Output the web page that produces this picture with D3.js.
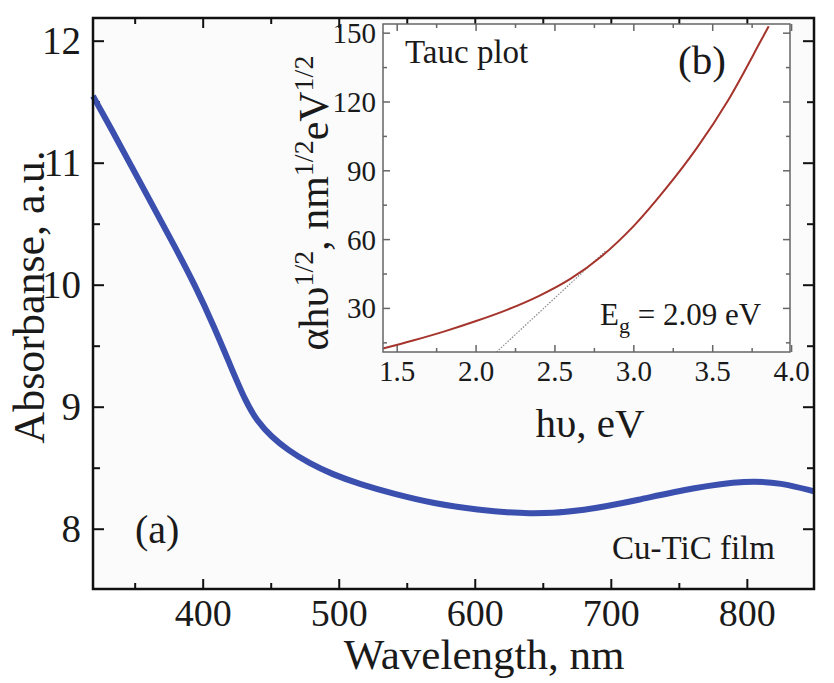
<!DOCTYPE html>
<html>
<head>
<meta charset="utf-8">
<script src="https://cdn.jsdelivr.net/npm/d3@7"></script>
<style>
  body { margin: 0; background: #fff; }
</style>
</head>
<body>
<script>
// main spectrum
var wavelength = [319, 332, 347, 362, 378, 394, 408, 420, 431, 440, 450, 462, 478, 495, 515, 540, 570, 600, 640, 680, 720, 760, 800, 825, 849];
var absorbance = [11.55, 11.29, 10.98, 10.67, 10.34, 10.0, 9.66, 9.34, 9.05, 8.88, 8.76, 8.65, 8.54, 8.45, 8.37, 8.29, 8.21, 8.16, 8.12, 8.15, 8.24, 8.34, 8.40, 8.38, 8.31];
var xTicks = [400, 500, 600, 700, 800];
var yTicks = [8, 9, 10, 11, 12];

// inset Tauc plot
var energy = [1.41, 1.6, 1.8, 2.0, 2.2, 2.4, 2.6, 2.8, 3.0, 3.2, 3.4, 3.6, 3.8, 3.855];
var tauc = [12.5, 16, 20, 24.5, 29.5, 35.5, 43, 53, 66, 82, 100, 121, 146, 153];
var tangentE = [2.13, 2.82];
var tangentY = [11, 55];
var insetXTicks = [1.5, 2.0, 2.5, 3.0, 3.5, 4.0];
var insetYTicks = [30, 60, 90, 120, 150];

var W = 834, H = 683;
var svg = d3.select("body").append("svg").attr("width", W).attr("height", H)
  .attr("font-family", "'Liberation Serif', 'Times New Roman', Times, serif")
  .attr("fill", "#1a1a1a");

// ---------- main plot ----------
var m = {left: 93, right: 814, top: 18, bottom: 589};
svg.append("rect").attr("x", m.left).attr("y", m.top)
  .attr("width", m.right - m.left).attr("height", m.bottom - m.top)
  .attr("fill", "#fbfbfb");

var x = d3.scaleLinear().domain([319, 849]).range([m.left, m.right]);
var y = d3.scaleLinear().domain([7.51, 12.19]).range([m.bottom, m.top]);

function tickMarks(g, scale, vals, len, orient) {
  vals.forEach(function(v) {
    var p = scale(v);
    if (orient == "bottom") g.append("line").attr("x1", p).attr("x2", p).attr("y1", m.bottom).attr("y2", m.bottom - len);
    if (orient == "top") g.append("line").attr("x1", p).attr("x2", p).attr("y1", m.top).attr("y2", m.top + len);
    if (orient == "left") g.append("line").attr("y1", p).attr("y2", p).attr("x1", m.left).attr("x2", m.left + len);
    if (orient == "right") g.append("line").attr("y1", p).attr("y2", p).attr("x1", m.right).attr("x2", m.right - len);
  });
}

var tk = svg.append("g").attr("stroke", "#111").attr("stroke-width", 2);
var xMinor = d3.range(350, 850, 100);
var yMinor = [8.5, 9.5, 10.5, 11.5];
tickMarks(tk, x, xTicks, 10, "bottom");
tickMarks(tk, x, xMinor, 6, "bottom");
tickMarks(tk, x, xTicks, 10, "top");
tickMarks(tk, x, xMinor, 6, "top");
tickMarks(tk, y, yTicks, 11, "left");
tickMarks(tk, y, yMinor, 7, "left");
tickMarks(tk, y, yTicks, 11, "right");
tickMarks(tk, y, yMinor, 7, "right");

svg.append("g").selectAll("text").data(xTicks).enter().append("text")
  .attr("x", d => x(d)).attr("y", 626).attr("text-anchor", "middle")
  .attr("font-size", 38).text(d => d);
svg.append("g").selectAll("text").data(yTicks).enter().append("text")
  .attr("x", 81).attr("y", d => y(d) + 13).attr("text-anchor", "end")
  .attr("font-size", 39).text(d => d);

svg.append("text").attr("x", 484).attr("y", 669).attr("text-anchor", "middle")
  .attr("font-size", 43).text("Wavelength, nm");
svg.append("text").attr("transform", "translate(44,297) rotate(-90)")
  .attr("text-anchor", "middle").attr("font-size", 44).text("Absorbanse, a.u.");

svg.append("path")
  .datum(d3.zip(wavelength, absorbance))
  .attr("fill", "none").attr("stroke", "#3a4fae").attr("stroke-width", 6)
  .attr("d", d3.line().x(d => x(d[0])).y(d => y(d[1])).curve(d3.curveBasis));

svg.append("text").attr("x", 135).attr("y", 543).attr("font-size", 40).text("(a)");
svg.append("text").attr("x", 612).attr("y", 559).attr("font-size", 33).text("Cu-TiC film");

svg.append("rect").attr("x", m.left).attr("y", m.top)
  .attr("width", m.right - m.left).attr("height", m.bottom - m.top)
  .attr("fill", "none").attr("stroke", "#111").attr("stroke-width", 2.5);

// ---------- inset ----------
var n = {left: 383, right: 790, top: 24, bottom: 352};
svg.append("rect").attr("x", n.left).attr("y", n.top)
  .attr("width", n.right - n.left).attr("height", n.bottom - n.top)
  .attr("fill", "#fff");

var ix = d3.scaleLinear().domain([1.41, 3.99]).range([n.left, n.right]);
var iy = d3.scaleLinear().domain([11, 154]).range([n.bottom, n.top]);

var itk = svg.append("g").attr("stroke", "#666").attr("stroke-width", 1.5);
var ixMinor = d3.range(1.75, 4.0, 0.5);
var iyMinor = d3.range(15, 151, 30);
function insetTicks(scale, vals, len, horiz) {
  vals.forEach(function(v) {
    var p = scale(v);
    if (horiz) {
      itk.append("line").attr("x1", p).attr("x2", p).attr("y1", n.bottom).attr("y2", n.bottom - len);
      itk.append("line").attr("x1", p).attr("x2", p).attr("y1", n.top).attr("y2", n.top + len);
    } else {
      itk.append("line").attr("y1", p).attr("y2", p).attr("x1", n.left).attr("x2", n.left + len);
      itk.append("line").attr("y1", p).attr("y2", p).attr("x1", n.right).attr("x2", n.right - len);
    }
  });
}
insetTicks(ix, insetXTicks, 7, true);
insetTicks(ix, ixMinor, 4, true);
insetTicks(iy, insetYTicks, 7, false);
insetTicks(iy, iyMinor, 4, false);

svg.append("g").selectAll("text").data(insetXTicks).enter().append("text")
  .attr("x", d => ix(d)).attr("y", 381).attr("text-anchor", "middle")
  .attr("font-size", 29).text(d => d.toFixed(1));
svg.append("g").selectAll("text").data(insetYTicks).enter().append("text")
  .attr("x", 376).attr("y", d => iy(d) + 10).attr("text-anchor", "end")
  .attr("font-size", 29).text(d => d);

svg.append("text").attr("x", 590).attr("y", 437).attr("text-anchor", "middle")
  .attr("font-size", 41).text("hυ, eV");

var yl = svg.append("text").attr("transform", "translate(328,203) rotate(-90)")
  .attr("text-anchor", "middle").attr("font-size", 42);
yl.append("tspan").text("αhυ");
yl.append("tspan").attr("dy", -15).attr("font-size", 28).text("1/2");
yl.append("tspan").attr("dy", 15).text(", nm");
yl.append("tspan").attr("dy", -15).attr("font-size", 28).text("1/2");
yl.append("tspan").attr("dy", 15).text("eV");
yl.append("tspan").attr("dy", -15).attr("font-size", 28).text("1/2");

svg.append("path")
  .datum(d3.zip(tangentE, tangentY))
  .attr("fill", "none").attr("stroke", "#888").attr("stroke-width", 1.2)
  .attr("stroke-dasharray", "1.5,1.5")
  .attr("d", d3.line().x(d => ix(d[0])).y(d => iy(d[1])));

svg.append("path")
  .datum(d3.zip(energy, tauc))
  .attr("fill", "none").attr("stroke", "#a5342c").attr("stroke-width", 2)
  .attr("d", d3.line().x(d => ix(d[0])).y(d => iy(d[1])).curve(d3.curveCatmullRom));

svg.append("text").attr("x", 405).attr("y", 63).attr("font-size", 33).text("Tauc plot");
svg.append("text").attr("x", 678).attr("y", 74).attr("font-size", 41).text("(b)");
var eg = svg.append("text").attr("x", 600).attr("y", 325).attr("font-size", 31);
eg.append("tspan").text("E");
eg.append("tspan").attr("dy", 8).attr("font-size", 22).text("g");
eg.append("tspan").attr("dy", -8).text(" = 2.09 eV");

svg.append("rect").attr("x", n.left).attr("y", n.top)
  .attr("width", n.right - n.left).attr("height", n.bottom - n.top)
  .attr("fill", "none").attr("stroke", "#666").attr("stroke-width", 1.5);
</script>
</body>
</html>
